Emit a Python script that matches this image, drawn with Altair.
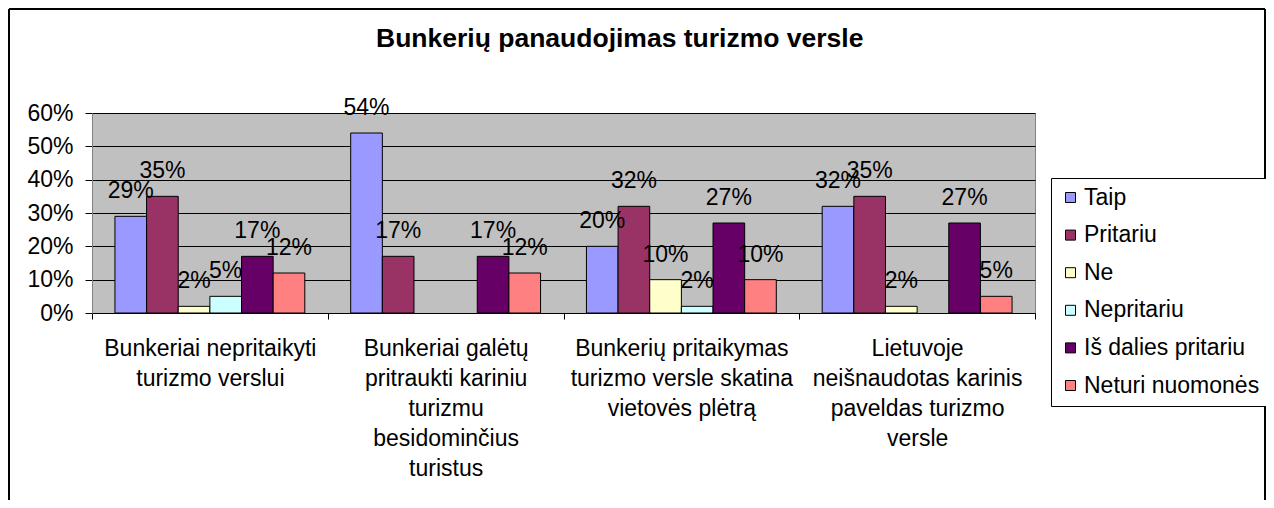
import altair as alt
import pandas as pd

categories = [
    "Bunkeriai nepritaikyti|turizmo verslui",
    "Bunkeriai galėtų|pritraukti kariniu|turizmu|besidominčius|turistus",
    "Bunkerių pritaikymas|turizmo versle skatina|vietovės plėtrą",
    "Lietuvoje|neišnaudotas karinis|paveldas turizmo|versle",
]
series = ["Taip", "Pritariu", "Ne", "Nepritariu", "Iš dalies pritariu", "Neturi nuomonės"]
taip = [29, 54, 20, 32]
pritariu = [35, 17, 32, 35]
ne = [2, 0, 10, 2]
nepritariu = [5, 0, 2, 0]
is_dalies = [17, 17, 27, 27]
neturi = [12, 12, 10, 5]
colors = ["#9999FF", "#993366", "#FFFFCC", "#CCFFFF", "#660066", "#FF8080"]
y_ticks = [0, 0.1, 0.2, 0.3, 0.4, 0.5, 0.6]
title_text = "Bunkerių panaudojimas turizmo versle"

values = [taip, pritariu, ne, nepritariu, is_dalies, neturi]
rows = []
for s, vals in zip(series, values):
    for c, v in zip(categories, vals):
        rows.append({"category": c, "series": s, "value": v / 100})
df = pd.DataFrame(rows)

FONT = "Liberation Sans"
FS = 23
W, H = 943, 200

x_enc = alt.X(
    "category:N",
    sort=categories,
    scale=alt.Scale(domain=categories, paddingInner=0, paddingOuter=0),
    axis=alt.Axis(
        title=None,
        labelExpr="split(datum.label, '|')",
        labelAngle=0,
        labelFontSize=FS,
        labelLineHeight=30,
        labelBaseline="top",
        labelPadding=18,
        labelLimit=400,
        labelOverlap=False,
        labelColor="black",
        tickBand="extent",
        tickColor="black",
        tickSize=6,
        domainColor="black",
        grid=False,
    ),
)
xo_enc = alt.XOffset(
    "series:N",
    sort=series,
    scale=alt.Scale(domain=series, paddingInner=0, paddingOuter=0.725),
)
y_enc = alt.Y(
    "value:Q",
    scale=alt.Scale(domain=[0, 0.6], nice=False),
    axis=alt.Axis(
        title=None,
        values=y_ticks,
        format=".0%",
        grid=True,
        gridColor="black",
        gridOpacity=1,
        tickColor="black",
        tickSize=7,
        domainColor="#808080",
        labelFontSize=FS,
        labelPadding=12,
        labelColor="black",
        labelOverlap=False,
        tickCount=7,
    ),
)

base = alt.Chart(df).transform_filter("datum.value > 0")

bars = base.mark_bar(stroke="black", strokeWidth=1).encode(
    x=x_enc,
    xOffset=xo_enc,
    y=y_enc,
    color=alt.Color(
        "series:N",
        sort=series,
        scale=alt.Scale(domain=series, range=colors),
        legend=alt.Legend(
            title=None,
            orient="none",
            legendX=959,
            legendY=65,
            symbolType="square",
            symbolSize=100,
            symbolStrokeColor="black",
            symbolStrokeWidth=1,
            labelFontSize=FS,
            labelColor="black",
            labelOffset=2,
            labelLimit=400,
            rowPadding=13.6,
            padding=8,
            strokeColor="black",
            fillColor="white",
        ),
    ),
)

labels = base.mark_text(
    dy=-18, baseline="alphabetic", fontSize=FS, color="black", font=FONT
).encode(
    x=x_enc,
    xOffset=xo_enc,
    y=y_enc,
    text=alt.Text("value:Q", format=".0%"),
)

one = pd.DataFrame({"k": [0]})
title_mark = alt.Chart(one).mark_text(
    text=title_text,
    fontSize=26.5,
    fontWeight="bold",
    font=FONT,
    color="black",
    align="left",
    baseline="alphabetic",
).encode(x=alt.value(284), y=alt.value(-66))

left_line = alt.Chart(one).mark_rule(color="black", strokeWidth=2).encode(
    x=alt.value(-83), y=alt.value(-104), y2=alt.value(400)
)
right_line = alt.Chart(one).mark_rule(color="black", strokeWidth=2).encode(
    x=alt.value(1173), y=alt.value(-104), y2=alt.value(400)
)
top_line = alt.Chart(one).mark_rule(color="black", strokeWidth=2).encode(
    x=alt.value(-83), x2=alt.value(1173), y=alt.value(-104)
)

chart = (
    alt.layer(bars, labels, title_mark, left_line, right_line, top_line)
    .properties(
        width=W,
        height=H,
        autosize=alt.AutoSizeParams(type="none"),
        padding={"left": 84, "top": 105, "right": 231, "bottom": 187},
    )
    .configure(font=FONT, background="white")
    .configure_view(fill="#C0C0C0", stroke="#808080", strokeWidth=1)
)

chart.save("out.html", embed_options={"renderer": "svg", "actions": False})
